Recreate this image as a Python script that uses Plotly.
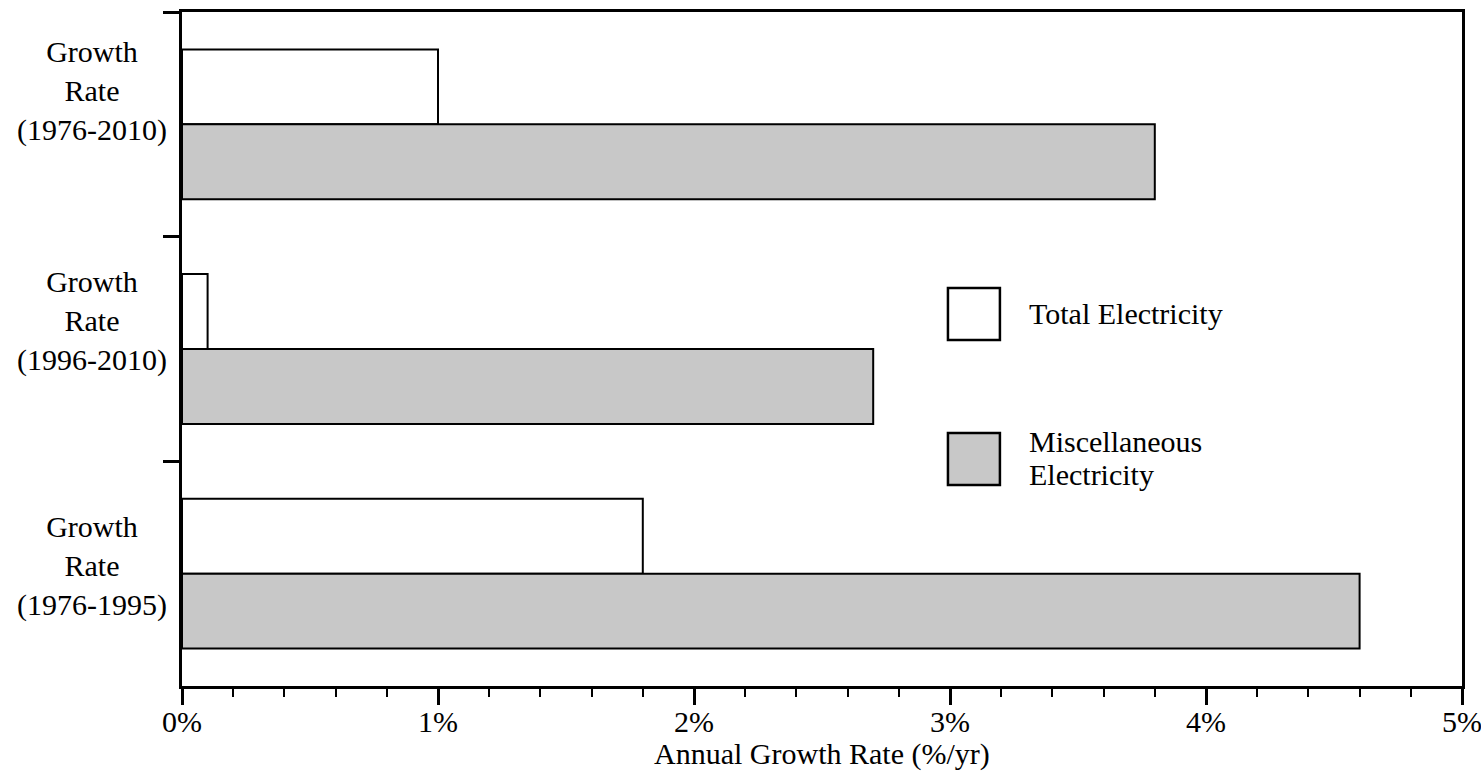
import plotly.graph_objects as go

categories = ["Growth<br>Rate<br>(1976-2010)", "Growth<br>Rate<br>(1996-2010)", "Growth<br>Rate<br>(1976-1995)"]
cat_keys = ["1976-2010", "1996-2010", "1976-1995"]
total_electricity = [1.0, 0.1, 1.8]
misc_electricity = [3.8, 2.7, 4.6]
x_tick_vals = [0, 1, 2, 3, 4, 5]
x_tick_text = ["0%", "1%", "2%", "3%", "4%", "5%"]

FONT = "Liberation Serif"

fig = go.Figure()
fig.add_trace(go.Bar(
    name="Total Electricity", y=cat_keys, x=total_electricity, orientation="h",
    marker=dict(color="white", line=dict(color="black", width=2)),
))
fig.add_trace(go.Bar(
    name="Miscellaneous Electricity", y=cat_keys, x=misc_electricity, orientation="h",
    marker=dict(color="#c8c8c8", line=dict(color="black", width=2)),
))

fig.update_layout(
    width=1481, height=771,
    margin=dict(l=182, r=19, t=12, b=85, autoexpand=False),
    paper_bgcolor="white", plot_bgcolor="white",
    barmode="group", bargap=0.333, bargroupgap=0,
    showlegend=False,
    font=dict(family=FONT, size=30, color="black"),
)

fig.update_xaxes(
    range=[0, 5], tickvals=x_tick_vals, ticktext=x_tick_text,
    ticks="outside", ticklen=16, tickwidth=3, tickcolor="black",
    minor=dict(dtick=0.2, ticks="outside", ticklen=8, tickwidth=1.5, tickcolor="black", showgrid=False),
    showline=True, linewidth=3, linecolor="black", mirror=True,
    showgrid=False, zeroline=False, automargin=False, ticklabeloverflow="allow",
    ticklabelstandoff=-9,
    tickfont=dict(family=FONT, size=30),
)
fig.update_yaxes(
    type="category", categoryorder="array", categoryarray=cat_keys,
    autorange="reversed", range=[2.5, -0.5],
    tickson="boundaries", ticks="outside", ticklen=16, tickwidth=3, tickcolor="black",
    showticklabels=False, automargin=False,
    showline=True, linewidth=3, linecolor="black", mirror=True,
    showgrid=False, zeroline=False,
)

label_shift = [33, 28, 8]
for key, label, s in zip(cat_keys, categories, label_shift):
    fig.add_annotation(
        x=-0.0703, xref="paper", y=key, yref="y", yshift=s,
        text=label, showarrow=False, xanchor="center", yanchor="middle",
        font=dict(family=FONT, size=30, color="black"), align="center",
    )

# x-axis title
fig.add_annotation(x=0.5, xref="paper", y=-0.1009, yref="paper", text="Annual Growth Rate (%/yr)",
                   showarrow=False, xanchor="center", yanchor="middle",
                   font=dict(family=FONT, size=30, color="black"))

# legend boxes
fig.add_shape(type="rect", xref="paper", yref="paper", x0=0.5984, x1=0.639, y0=0.5134, y1=0.5905,
              fillcolor="white", line=dict(color="black", width=2.5))
fig.add_shape(type="rect", xref="paper", yref="paper", x0=0.5984, x1=0.639, y0=0.2982, y1=0.3754,
              fillcolor="#c8c8c8", line=dict(color="black", width=2.5))
fig.add_annotation(x=0.660, xref="paper", y=0.553, yref="paper", text="Total Electricity",
                   showarrow=False, xanchor="left", yanchor="middle",
                   font=dict(family=FONT, size=30, color="black"))
fig.add_annotation(x=0.660, xref="paper", y=0.363, yref="paper", text="Miscellaneous",
                   showarrow=False, xanchor="left", yanchor="middle",
                   font=dict(family=FONT, size=30, color="black"))
fig.add_annotation(x=0.660, xref="paper", y=0.314, yref="paper", text="Electricity",
                   showarrow=False, xanchor="left", yanchor="middle",
                   font=dict(family=FONT, size=30, color="black"))

fig.write_html("out.html", config={"displayModeBar": False},
               post_script="document.body.style.margin='0';document.body.style.overflow='hidden';")
